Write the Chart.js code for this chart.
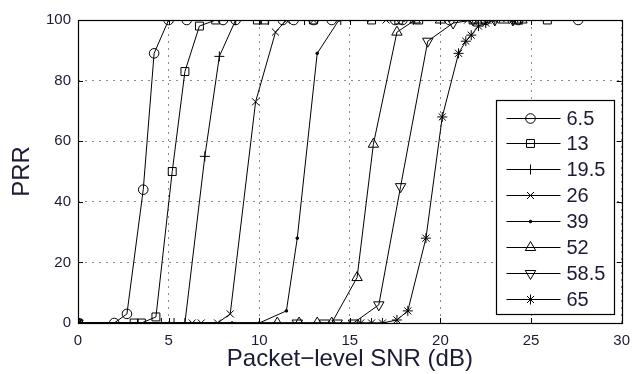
<!DOCTYPE html>
<html>
<head>
<meta charset="utf-8">
<script src="https://cdn.jsdelivr.net/npm/chart.js@4.4.1/dist/chart.umd.min.js"></script>
<style>
  html, body { margin: 0; padding: 0; background: #ffffff; }
  #wrap { width: 639px; height: 374px; position: relative; }
</style>
</head>
<body>
<div id="wrap"><canvas id="prr"></canvas></div>
<script>
// PHY data rates (Mbps) shown in the legend
const rateLabels = ['6.5', '13', '19.5', '26', '39', '52', '58.5', '65'];

// Packet-level SNR (dB) samples and measured PRR (%) per rate
const snr_6_5 = [0, 2.0, 2.7, 3.6, 4.2, 5.0, 6.0, 8.0, 8.7, 11.3, 11.9, 13.0, 14.0, 17.5, 17.9, 20.5, 22.5, 24.3, 27.6];
const prr_6_5 = [0, 0, 3, 44, 89, 100, 100, 100, 100, 100, 100, 100, 100, 100, 100, 100, 100, 100, 100];

const snr_13 = [0, 3.1, 3.5, 4.3, 5.2, 5.9, 6.7, 7.6, 9.9, 10.3, 13.0, 16.2, 17.7, 18.8, 21.8, 24.2, 25.9];
const prr_13 = [0, 0, 0, 2, 50, 83, 98, 100, 100, 100, 100, 100, 100, 100, 100, 100, 100];

const snr_19_5 = [0, 4.6, 5.3, 5.9, 7.0, 7.8, 8.7, 10.5, 12.5, 14.5, 18.5, 22.5, 24.5];
const prr_19_5 = [0, 0, 0, 0, 55, 88, 100, 100, 100, 100, 100, 100, 100];

const snr_26 = [0, 6.3, 6.8, 7.7, 8.4, 9.8, 10.9, 11.5, 13.0, 17.0, 21.5, 24.0];
const prr_26 = [0, 0, 0, 0, 3, 73, 96, 100, 100, 100, 100, 100];

const snr_39 = [0, 8.5, 10.0, 11.5, 12.1, 13.2, 14.4, 16.0, 18.0, 20.5, 23.5];
const prr_39 = [0, 0, 0, 4, 28, 89, 100, 100, 100, 100, 100];

const snr_52 = [0, 11.0, 12.2, 13.2, 14.0, 15.4, 16.3, 17.6, 18.6, 20.0, 22.0, 23.5, 24.5];
const prr_52 = [0, 0, 0, 0, 0, 15, 59, 96, 100, 100, 100, 100, 100];

const snr_58_5 = [0, 12.1, 13.6, 14.3, 15.2, 16.6, 17.8, 19.3, 20.7, 21.8, 23.0, 24.0];
const prr_58_5 = [0, 0, 0, 0, 0, 6, 45, 93, 99, 100, 100, 100];

const snr_65 = [0, 15.6, 16.2, 16.8, 17.6, 18.2, 19.2, 20.1, 21.0, 21.4, 21.7, 22.1, 22.5, 23.0, 24.0];
const prr_65 = [0, 0, 0, 0, 1, 4, 28, 68, 89, 93, 95, 98, 99, 100, 100];

const xTicks = [0, 5, 10, 15, 20, 25, 30];
const yTicks = [0, 20, 40, 60, 80, 100];

const snrSeries = [snr_6_5, snr_13, snr_19_5, snr_26, snr_39, snr_52, snr_58_5, snr_65];
const prrSeries = [prr_6_5, prr_13, prr_19_5, prr_26, prr_39, prr_52, prr_58_5, prr_65];

// Marker style for each rate
const markers = [
  { pointStyle: 'circle',   radius: 4.8, rotation: 0,   fill: 'rgba(0,0,0,0)' },
  { pointStyle: 'rect',     radius: 5.6, rotation: 0,   fill: 'rgba(0,0,0,0)' },
  { pointStyle: 'cross',    radius: 5.0, rotation: 0,   fill: 'rgba(0,0,0,0)' },
  { pointStyle: 'crossRot', radius: 5.0, rotation: 0,   fill: 'rgba(0,0,0,0)' },
  { pointStyle: 'circle',   radius: 1.3, rotation: 0,   fill: '#000000' },
  { pointStyle: 'triangle', radius: 6.0, rotation: 0,   fill: 'rgba(0,0,0,0)' },
  { pointStyle: 'triangle', radius: 6.0, rotation: 180, fill: 'rgba(0,0,0,0)' },
  { pointStyle: 'star',     radius: 5.0, rotation: 0,   fill: 'rgba(0,0,0,0)' }
];

const FONT = '"Liberation Sans", Arial, Helvetica, sans-serif';
const TEXT = '#1b1b36';

const datasets = rateLabels.map((name, i) => ({
  label: name,
  data: snrSeries[i].map((x, k) => ({ x: x, y: prrSeries[i][k] })),
  borderColor: '#000000',
  borderWidth: 1,
  backgroundColor: markers[i].fill,
  pointStyle: markers[i].pointStyle,
  pointRadius: markers[i].radius,
  pointRotation: markers[i].rotation,
  pointBorderColor: '#000000',
  pointBackgroundColor: markers[i].fill,
  pointBorderWidth: 1,
  pointHoverRadius: markers[i].radius,
  tension: 0,
  fill: false
}));

// Axis frame with inward ticks on all four sides, plus the boxed legend
const framePlugin = {
  id: 'frameAndLegend',
  afterDatasetsDraw(chart) {
    const ctx = chart.ctx;
    const a = chart.chartArea;
    const xs = chart.scales.x, ys = chart.scales.y;
    ctx.save();
    ctx.strokeStyle = '#000000';
    ctx.lineWidth = 1.2;
    ctx.setLineDash([]);
    ctx.strokeRect(Math.round(a.left) + 0.5, Math.round(a.top) + 0.5,
                   Math.round(a.right - a.left), Math.round(a.bottom - a.top));
    const tl = 5;
    ctx.lineWidth = 1;
    ctx.beginPath();
    xTicks.forEach(v => {
      const px = Math.round(xs.getPixelForValue(v)) + 0.5;
      ctx.moveTo(px, a.bottom); ctx.lineTo(px, a.bottom - tl);
      ctx.moveTo(px, a.top); ctx.lineTo(px, a.top + tl);
    });
    yTicks.forEach(v => {
      const py = Math.round(ys.getPixelForValue(v)) + 0.5;
      ctx.moveTo(a.left, py); ctx.lineTo(a.left + tl, py);
      ctx.moveTo(a.right, py); ctx.lineTo(a.right - tl, py);
    });
    ctx.stroke();

    // legend box
    const bw = 118, bh = 214;
    const bx = Math.round(a.right - 8 - bw) + 0.5;
    const by = Math.round(a.bottom - 9 - bh) + 0.5;
    ctx.fillStyle = '#ffffff';
    ctx.fillRect(bx, by, bw, bh);
    ctx.strokeStyle = '#000000';
    ctx.lineWidth = 1.2;
    ctx.strokeRect(bx, by, bw, bh);

    const rowH = 25.9;
    const drawPoint = Chart.helpers && Chart.helpers.drawPoint;
    rateLabels.forEach((name, i) => {
      const cy = Math.round(by + 17 + i * rowH) + 0.5;
      ctx.beginPath();
      ctx.strokeStyle = '#000000';
      ctx.lineWidth = 1;
      ctx.moveTo(bx + 10, cy);
      ctx.lineTo(bx + 64, cy);
      ctx.stroke();
      const m = markers[i];
      ctx.fillStyle = m.fill;
      ctx.strokeStyle = '#000000';
      if (drawPoint) {
        drawPoint(ctx, { pointStyle: m.pointStyle, rotation: m.rotation, radius: m.radius, borderWidth: 1 }, bx + 34, cy);
      }
      ctx.fillStyle = TEXT;
      ctx.font = '20px ' + FONT;
      ctx.textAlign = 'left';
      ctx.textBaseline = 'middle';
      ctx.fillText(name, bx + 70, cy + 1);
    });
    ctx.restore();
  }
};

new Chart(document.getElementById('prr'), {
  type: 'line',
  data: { datasets: datasets },
  options: {
    responsive: true,
    maintainAspectRatio: false,
    animation: false,
    devicePixelRatio: 1,
    layout: { padding: { top: 20, right: 10, left: 0, bottom: 0 } },
    plugins: { legend: { display: false }, tooltip: { enabled: false } },
    scales: {
      x: {
        type: 'linear',
        min: 0, max: 30,
        afterFit(scale) { scale.height = 51; },
        afterBuildTicks(scale) { scale.ticks = xTicks.map(v => ({ value: v })); },
        grid: { color: '#8a8a8a', lineWidth: 1, drawTicks: false },
        border: { display: false, dash: [2, 5] },
        ticks: { padding: 9, color: TEXT, font: { family: FONT, size: 15 }, maxRotation: 0 },
        title: { display: true, text: 'Packet\u2212level SNR (dB)', color: TEXT,
                 font: { family: FONT, size: 24 }, padding: { top: 0, bottom: 0 } }
      },
      y: {
        type: 'linear',
        min: 0, max: 100,
        afterFit(scale) { scale.width = 78; },
        afterBuildTicks(scale) { scale.ticks = yTicks.map(v => ({ value: v })); },
        grid: { color: '#8a8a8a', lineWidth: 1, drawTicks: false },
        border: { display: false, dash: [2, 5] },
        ticks: { padding: 7, color: TEXT, font: { family: FONT, size: 15 } },
        title: { display: true, text: 'PRR', color: TEXT,
                 font: { family: FONT, size: 24 }, padding: { top: 8, bottom: 0 } }
      }
    }
  },
  plugins: [framePlugin]
});
</script>
</body>
</html>
